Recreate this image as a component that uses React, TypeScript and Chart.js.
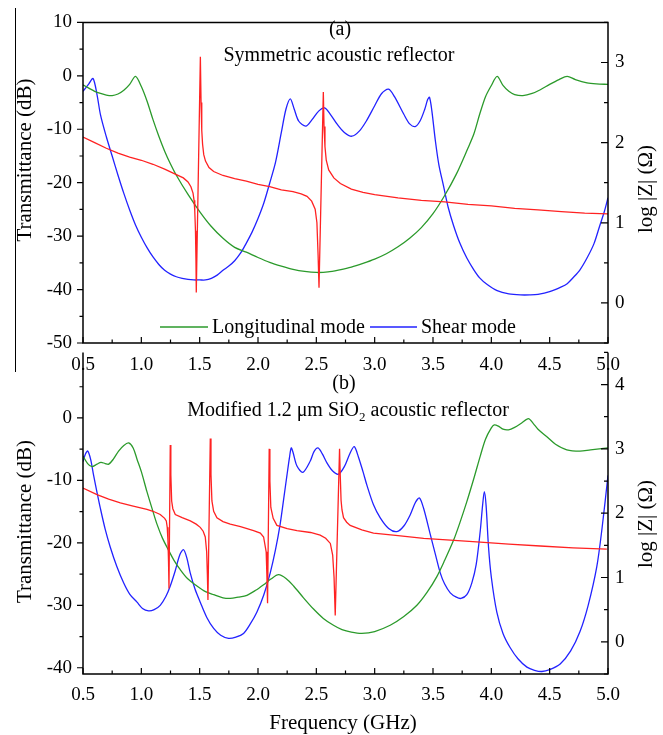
import React, { useEffect, useRef } from 'react';
import { Chart, registerables } from 'chart.js';
Chart.register(...registerables);

const FONT = '"Liberation Serif", "Times New Roman", Times, serif';
const GREEN = '#2b9a2b';
const BLUE = '#2222ff';
const RED = '#ff2222';

// ---------- axis ticks ----------
const xMajor = [0.5, 1.0, 1.5, 2.0, 2.5, 3.0, 3.5, 4.0, 4.5, 5.0];
const xMinor = [0.75, 1.25, 1.75, 2.25, 2.75, 3.25, 3.75, 4.25, 4.75];
const aLeftMajor = [-50, -40, -30, -20, -10, 0, 10];
const aLeftMinor = [-45, -35, -25, -15, -5, 5];
const aRightMajor = [0, 1, 2, 3];
const aRightMinor = [-0.5, 0.5, 1.5, 2.5, 3.5];
const bLeftMajor = [-40, -30, -20, -10, 0];
const bLeftMinor = [-35, -25, -15, -5, 5];
const bRightMajor = [0, 1, 2, 3, 4];
const bRightMinor = [-0.5, 0.5, 1.5, 2.5, 3.5, 4.5];

// ---------- panel (a) data : [GHz, dB] / [GHz, log|Z|] ----------
const aLongitudinal: [number, number][] = [
  [0.5, -1.7], [0.55, -2.3], [0.6, -2.9], [0.65, -3.3], [0.7, -3.6], [0.75, -3.7], [0.8, -3.4], [0.85, -2.7],
  [0.9, -1.6], [0.95, -0.1], [1.0, -2.0], [1.05, -4.8], [1.1, -8.2], [1.15, -11.3], [1.2, -14.1], [1.25, -16.5],
  [1.3, -18.6], [1.4, -22.2], [1.5, -25.4], [1.6, -28.2], [1.7, -30.4], [1.8, -32.1], [1.9, -33.0], [2.0, -34.0],
  [2.1, -34.9], [2.2, -35.6], [2.3, -36.2], [2.4, -36.6], [2.5, -36.8], [2.6, -36.7], [2.7, -36.3], [2.8, -35.8],
  [2.9, -35.1], [3.0, -34.3], [3.1, -33.3], [3.2, -32.0], [3.3, -30.4], [3.4, -28.4], [3.5, -25.8], [3.6, -22.4],
  [3.7, -18.4], [3.8, -13.5], [3.85, -10.9], [3.9, -7.2], [3.95, -3.9], [4.0, -1.8], [4.05, -0.1], [4.1, -1.8],
  [4.15, -2.9], [4.2, -3.5], [4.27, -3.7], [4.35, -3.3], [4.42, -2.6], [4.5, -1.6], [4.58, -0.7], [4.65, -0.1],
  [4.72, -0.7], [4.82, -1.3], [4.9, -1.5], [5.0, -1.6],
];
const aShear: [number, number][] = [
  [0.5, -2.9], [0.55, -1.5], [0.586, -0.5], [0.62, -3.5], [0.65, -7.3], [0.7, -11.4], [0.75, -15.0], [0.8, -18.6],
  [0.85, -22.0], [0.9, -25.1], [0.95, -27.9], [1.0, -30.2], [1.05, -32.2], [1.1, -33.9], [1.15, -35.3], [1.2, -36.4],
  [1.25, -37.1], [1.3, -37.6], [1.35, -37.9], [1.4, -38.1], [1.45, -38.2], [1.5, -38.2], [1.55, -38.2], [1.6, -37.9],
  [1.65, -37.3], [1.7, -36.4], [1.75, -35.6], [1.8, -34.6], [1.85, -33.2], [1.9, -31.3], [1.95, -29.2], [2.0, -26.7],
  [2.05, -23.8], [2.1, -20.1], [2.15, -16.2], [2.2, -10.6], [2.24, -6.2], [2.277, -4.3], [2.31, -6.2], [2.35, -8.5],
  [2.41, -9.4], [2.46, -8.3], [2.52, -6.6], [2.571, -6.0], [2.62, -7.2], [2.68, -9.1], [2.74, -10.6], [2.805, -11.3],
  [2.87, -10.3], [2.93, -8.4], [3.0, -5.6], [3.06, -3.3], [3.119, -2.5], [3.17, -3.9], [3.25, -7.2], [3.3, -9.0],
  [3.347, -9.5], [3.39, -8.4], [3.43, -6.2], [3.455, -4.4], [3.47, -4.0], [3.49, -6.5], [3.52, -12.1], [3.55, -16.6],
  [3.59, -20.6], [3.63, -24.6], [3.676, -28.0], [3.73, -31.3], [3.79, -34.1], [3.85, -36.3], [3.9, -37.8], [3.962, -39.0],
  [4.05, -40.2], [4.15, -40.8], [4.25, -41.0], [4.33, -41.0], [4.4, -40.9], [4.5, -40.4], [4.6, -39.5], [4.65, -38.9],
  [4.7, -37.8], [4.76, -36.3], [4.82, -34.1], [4.88, -31.4], [4.93, -28.0], [4.97, -25.3], [5.0, -22.8],
];
const aImpedance: [number, number][] = [
  [0.5, 2.07], [0.6, 2.0], [0.7, 1.93], [0.8, 1.87], [0.9, 1.82], [1.0, 1.78], [1.1, 1.73], [1.2, 1.67],
  [1.3, 1.6], [1.36, 1.56], [1.4, 1.51], [1.425, 1.45], [1.443, 1.37], [1.452, 1.28], [1.458, 1.15], [1.464, 0.9],
  [1.468, 0.55], [1.471, 0.13], [1.506, 3.07], [1.512, 2.5], [1.518, 2.15], [1.525, 1.98], [1.535, 1.85], [1.55, 1.77],
  [1.58, 1.69], [1.62, 1.64], [1.7, 1.59], [1.8, 1.55], [1.9, 1.52], [2.0, 1.48], [2.1, 1.45], [2.2, 1.41],
  [2.3, 1.39], [2.37, 1.36], [2.42, 1.33], [2.46, 1.27], [2.49, 1.17], [2.505, 1.0], [2.515, 0.6], [2.523, 0.19],
  [2.56, 2.63], [2.566, 2.2], [2.574, 1.95], [2.585, 1.78], [2.606, 1.66], [2.65, 1.56], [2.706, 1.49], [2.8, 1.42],
  [2.9, 1.38], [3.0, 1.35], [3.2, 1.31], [3.4, 1.28], [3.6, 1.26], [3.8, 1.23], [4.0, 1.21], [4.2, 1.18],
  [4.4, 1.16], [4.6, 1.14], [4.8, 1.12], [5.0, 1.11],
];

// ---------- panel (b) data ----------
const bLongitudinal: [number, number][] = [
  [0.5, -6.1], [0.54, -7.3], [0.577, -7.8], [0.62, -7.4], [0.654, -7.1], [0.69, -7.3], [0.72, -7.4], [0.76, -6.6],
  [0.805, -5.3], [0.85, -4.4], [0.891, -4.0], [0.93, -4.8], [0.963, -6.6], [1.0, -8.6], [1.048, -11.8], [1.1, -15.0],
  [1.134, -17.0], [1.18, -19.2], [1.234, -21.2], [1.28, -22.8], [1.334, -24.3], [1.4, -25.8], [1.477, -26.9], [1.55, -27.8],
  [1.62, -28.3], [1.7, -28.8], [1.762, -28.9], [1.83, -28.7], [1.905, -28.4], [1.98, -27.6], [2.048, -26.7], [2.11, -25.8],
  [2.176, -25.1], [2.24, -25.7], [2.305, -26.9], [2.39, -28.8], [2.476, -30.6], [2.56, -32.1], [2.647, -33.2], [2.72, -33.9],
  [2.8, -34.3], [2.89, -34.5], [3.0, -34.2], [3.133, -33.2], [3.25, -31.8], [3.362, -30.0], [3.45, -27.9], [3.533, -25.4],
  [3.6, -22.8], [3.676, -19.6], [3.73, -16.8], [3.79, -13.4], [3.85, -9.7], [3.905, -6.1], [3.95, -3.4], [4.0, -1.6],
  [4.025, -1.1], [4.06, -1.3], [4.1, -1.8], [4.147, -1.9], [4.2, -1.5], [4.26, -0.8], [4.318, -0.1], [4.36, -0.9],
  [4.4, -1.8], [4.476, -3.0], [4.55, -4.2], [4.647, -5.1], [4.76, -5.3], [4.85, -5.1], [5.0, -4.8],
];
const bShear: [number, number][] = [
  [0.5, -7.0], [0.52, -5.8], [0.54, -5.3], [0.565, -6.6], [0.591, -9.2], [0.62, -11.9], [0.648, -14.4], [0.69, -17.8],
  [0.734, -20.7], [0.79, -23.8], [0.848, -26.4], [0.9, -28.2], [0.963, -29.5], [1.01, -30.5], [1.062, -30.9], [1.11, -30.7],
  [1.162, -30.0], [1.21, -28.6], [1.248, -26.9], [1.29, -24.5], [1.33, -21.9], [1.362, -21.1], [1.39, -22.4], [1.419, -24.8],
  [1.46, -27.4], [1.505, -29.5], [1.56, -31.9], [1.62, -33.7], [1.68, -34.8], [1.748, -35.3], [1.81, -35.1], [1.876, -34.5],
  [1.93, -33.1], [1.99, -31.1], [2.05, -28.3], [2.105, -24.8], [2.15, -21.1], [2.19, -17.0], [2.22, -13.0], [2.248, -9.2],
  [2.27, -6.3], [2.285, -4.8], [2.3, -5.5], [2.334, -7.7], [2.385, -8.7], [2.448, -6.9], [2.48, -5.4], [2.514, -4.8],
  [2.55, -5.7], [2.591, -7.2], [2.64, -8.5], [2.69, -9.0], [2.74, -7.8], [2.79, -5.6], [2.825, -4.6], [2.86, -6.2],
  [2.9, -8.6], [2.934, -10.8], [2.99, -13.9], [3.048, -16.0], [3.12, -17.7], [3.19, -18.2], [3.25, -17.3], [3.305, -15.5],
  [3.35, -13.5], [3.384, -12.8], [3.42, -14.5], [3.476, -18.6], [3.52, -21.8], [3.562, -24.8], [3.6, -26.6], [3.648, -28.0],
  [3.7, -28.7], [3.74, -28.9], [3.79, -28.3], [3.833, -26.4], [3.87, -23.5], [3.905, -18.1], [3.925, -14.0], [3.94, -11.8],
  [3.955, -14.0], [3.976, -20.7], [4.0, -25.5], [4.047, -31.1], [4.1, -34.5], [4.162, -36.8], [4.23, -38.6], [4.305, -39.9],
  [4.37, -40.4], [4.433, -40.6], [4.5, -40.3], [4.59, -39.4], [4.68, -37.3], [4.76, -34.2], [4.83, -30.0], [4.904, -23.8],
  [4.95, -17.5], [5.0, -9.2],
];
const bImpedance: [number, number][] = [
  [0.5, 2.39], [0.62, 2.29], [0.72, 2.22], [0.82, 2.16], [0.93, 2.11], [1.048, 2.06], [1.1, 2.03], [1.162, 1.98],
  [1.2, 1.92], [1.214, 1.88], [1.222, 1.78], [1.228, 1.58], [1.233, 1.25], [1.237, 0.83], [1.248, 3.06], [1.253, 2.6],
  [1.26, 2.19], [1.27, 2.07], [1.291, 1.98], [1.35, 1.93], [1.42, 1.88], [1.47, 1.83], [1.505, 1.78], [1.53, 1.72],
  [1.548, 1.63], [1.56, 1.4], [1.566, 1.05], [1.571, 0.65], [1.591, 3.16], [1.597, 2.6], [1.605, 2.19], [1.62, 2.03],
  [1.648, 1.93], [1.7, 1.87], [1.762, 1.83], [1.85, 1.79], [1.962, 1.73], [2.02, 1.69], [2.048, 1.63], [2.07, 1.4],
  [2.076, 1.05], [2.082, 0.6], [2.096, 3.0], [2.102, 2.5], [2.11, 2.09], [2.13, 1.92], [2.162, 1.81], [2.25, 1.76],
  [2.334, 1.73], [2.45, 1.7], [2.533, 1.66], [2.58, 1.61], [2.62, 1.53], [2.64, 1.35], [2.652, 1.0], [2.662, 0.41],
  [2.699, 3.0], [2.705, 2.59], [2.712, 2.2], [2.72, 2.05], [2.733, 1.93], [2.76, 1.86], [2.79, 1.81], [2.89, 1.74],
  [2.99, 1.69], [3.2, 1.65], [3.42, 1.61], [3.65, 1.58], [3.905, 1.55], [4.15, 1.52], [4.42, 1.49], [4.7, 1.46],
  [4.99, 1.44],
];

type Part = { t: string; sub?: boolean };
type TextItem = { parts: Part[]; x: number; y: number; size: number; rot?: boolean };
type LegendItem = { ds: number; x0: number; x1: number; y: number; tx: number; ty: number };

type PanelSpec = {
  height: number;
  padTop: number;
  xHeight: number;
  xPad: number;
  yL: [number, number];
  yR: [number, number];
  yLMajor: number[];
  yLMinor: number[];
  yRMajor: number[];
  yRMinor: number[];
  topLine: boolean;
  longitudinal: [number, number][];
  shear: [number, number][];
  impedance: [number, number][];
  texts: TextItem[];
  legend: LegendItem[];
};

const panelA: PanelSpec = {
  height: 380, padTop: 16, xHeight: 37, xPad: 11,
  yL: [-50, 10], yR: [-0.5, 3.5],
  yLMajor: aLeftMajor, yLMinor: aLeftMinor, yRMajor: aRightMajor, yRMinor: aRightMinor,
  topLine: true,
  longitudinal: aLongitudinal, shear: aShear, impedance: aImpedance,
  texts: [
    { parts: [{ t: '(a)' }], x: 340, y: 35, size: 20 },
    { parts: [{ t: 'Symmetric acoustic reflector' }], x: 339, y: 60.5, size: 20 },
    { parts: [{ t: 'Transmittance (dB)' }], x: 31, y: 160, size: 21, rot: true },
    { parts: [{ t: 'log |Z| (Ω)' }], x: 652, y: 189, size: 21, rot: true },
  ],
  legend: [
    { ds: 1, x0: 160, x1: 208, y: 327, tx: 212, ty: 333 },
    { ds: 2, x0: 370, x1: 417, y: 327, tx: 421, ty: 333 },
  ],
};

const panelB: PanelSpec = {
  height: 405, padTop: 14, xHeight: 61, xPad: 10,
  yL: [-41, 10.5], yR: [-0.5, 4.5],
  yLMajor: bLeftMajor, yLMinor: bLeftMinor, yRMajor: bRightMajor, yRMinor: bRightMinor,
  topLine: false,
  longitudinal: bLongitudinal, shear: bShear, impedance: bImpedance,
  texts: [
    { parts: [{ t: '(b)' }], x: 344, y: 58.5, size: 20 },
    { parts: [{ t: 'Modified 1.2 μm SiO' }, { t: '2', sub: true }, { t: ' acoustic reflector' }], x: 348, y: 85.5, size: 20 },
    { parts: [{ t: 'Transmittance (dB)' }], x: 31, y: 191.5, size: 21, rot: true },
    { parts: [{ t: 'log |Z| (Ω)' }], x: 652, y: 194, size: 21, rot: true },
    { parts: [{ t: 'Frequency (GHz)' }], x: 343, y: 399, size: 21 },
  ],
  legend: [],
};

const toXY = (pairs: [number, number][]) => pairs.map(([x, y]) => ({ x, y }));

function makeDecor(p: PanelSpec) {
  return {
    id: 'decor',
    afterDraw(chart: any) {
      const { ctx, chartArea: a, scales } = chart;
      ctx.save();
      ctx.strokeStyle = '#000';
      ctx.lineWidth = 1.5;
      ctx.beginPath();
      ctx.moveTo(a.left, a.top);
      ctx.lineTo(a.left, a.bottom);
      ctx.lineTo(a.right, a.bottom);
      ctx.lineTo(a.right, a.top);
      if (p.topLine) ctx.lineTo(a.left, a.top);
      ctx.stroke();

      ctx.lineWidth = 1.2;
      ctx.beginPath();
      const seg = (x1: number, y1: number, x2: number, y2: number) => { ctx.moveTo(x1, y1); ctx.lineTo(x2, y2); };
      p.yLMajor.forEach((v) => { const y = scales.yL.getPixelForValue(v); seg(a.left - 6, y, a.left, y); });
      p.yLMinor.forEach((v) => { const y = scales.yL.getPixelForValue(v); seg(a.left - 3.5, y, a.left, y); });
      p.yRMajor.forEach((v) => { const y = scales.yR.getPixelForValue(v); seg(a.right - 7, y, a.right, y); });
      p.yRMinor.forEach((v) => { const y = scales.yR.getPixelForValue(v); seg(a.right - 4, y, a.right, y); });
      xMajor.forEach((v) => { const x = scales.x.getPixelForValue(v); seg(x, a.bottom, x, a.bottom - 6); });
      xMinor.forEach((v) => { const x = scales.x.getPixelForValue(v); seg(x, a.bottom, x, a.bottom - 3.5); });
      ctx.stroke();

      ctx.fillStyle = '#000';
      ctx.textBaseline = 'alphabetic';
      ctx.textAlign = 'left';
      p.texts.forEach((ti) => {
        const sizes = ti.parts.map((pt) => (pt.sub ? ti.size * 0.65 : ti.size));
        const widths = ti.parts.map((pt, i) => { ctx.font = `${sizes[i]}px ${FONT}`; return ctx.measureText(pt.t).width; });
        const total = widths.reduce((s, w) => s + w, 0);
        ctx.save();
        ctx.translate(ti.x, ti.y);
        if (ti.rot) ctx.rotate(-Math.PI / 2);
        let cx = -total / 2;
        ti.parts.forEach((pt, i) => {
          ctx.font = `${sizes[i]}px ${FONT}`;
          ctx.fillText(pt.t, cx, pt.sub ? ti.size * 0.25 : 0);
          cx += widths[i];
        });
        ctx.restore();
      });

      p.legend.forEach((li) => {
        const ds = chart.data.datasets[li.ds];
        ctx.strokeStyle = ds.borderColor;
        ctx.lineWidth = ds.borderWidth;
        ctx.beginPath();
        ctx.moveTo(li.x0, li.y);
        ctx.lineTo(li.x1, li.y);
        ctx.stroke();
        ctx.fillStyle = '#000';
        ctx.font = `20px ${FONT}`;
        ctx.fillText(ds.label, li.tx, li.ty);
      });
      ctx.restore();
    },
  };
}

function buildConfig(p: PanelSpec): any {
  const font = { family: FONT, size: 19 };
  const fixTicks = (vals: number[]) => (s: any) => { s.ticks = vals.map((v) => ({ value: v })); };
  return {
    type: 'line',
    data: {
      datasets: [
        { label: 'log |Z|', data: toXY(p.impedance), yAxisID: 'yR', borderColor: RED, borderWidth: 1.3, pointRadius: 0, tension: 0, fill: false },
        { label: 'Longitudinal mode', data: toXY(p.longitudinal), yAxisID: 'yL', borderColor: GREEN, borderWidth: 1.3, pointRadius: 0, tension: 0.3, fill: false },
        { label: 'Shear mode', data: toXY(p.shear), yAxisID: 'yL', borderColor: BLUE, borderWidth: 1.3, pointRadius: 0, tension: 0.3, fill: false },
      ],
    },
    options: {
      animation: false,
      responsive: false,
      events: [],
      layout: { padding: { top: p.padTop, left: 0, right: 0, bottom: 0 } },
      plugins: { legend: { display: false }, tooltip: { enabled: false }, title: { display: false } },
      scales: {
        x: {
          type: 'linear', position: 'bottom', min: 0.5, max: 5.0,
          afterBuildTicks: fixTicks(xMajor),
          afterFit: (s: any) => { s.height = p.xHeight; },
          ticks: { callback: (v: any) => Number(v).toFixed(1), font, color: '#000', padding: p.xPad, maxRotation: 0, minRotation: 0, autoSkip: false },
          grid: { display: false, drawTicks: false },
          border: { display: false },
        },
        yL: {
          type: 'linear', position: 'left', min: p.yL[0], max: p.yL[1],
          afterBuildTicks: fixTicks(p.yLMajor),
          afterFit: (s: any) => { s.width = 83; },
          ticks: { callback: (v: any) => String(v), font, color: '#000', padding: 11, autoSkip: false },
          grid: { display: false, drawTicks: false },
          border: { display: false },
        },
        yR: {
          type: 'linear', position: 'right', min: p.yR[0], max: p.yR[1],
          afterBuildTicks: fixTicks(p.yRMajor),
          afterFit: (s: any) => { s.width = 55; },
          ticks: { callback: (v: any) => String(v), font, color: '#000', padding: 7, autoSkip: false },
          grid: { display: false, drawTicks: false },
          border: { display: false },
        },
      },
    },
    plugins: [makeDecor(p)],
  };
}

function Panel({ spec, top }: { spec: PanelSpec; top: number }) {
  const ref = useRef<HTMLCanvasElement>(null);
  useEffect(() => {
    const chart = new Chart(ref.current as HTMLCanvasElement, buildConfig(spec));
    return () => chart.destroy();
  }, [spec]);
  return (
    <canvas
      ref={ref}
      width={663}
      height={spec.height}
      style={{ position: 'absolute', left: 0, top, width: 663, height: spec.height }}
    />
  );
}

export default function App() {
  return (
    <div style={{ position: 'absolute', left: 0, top: 0, width: 663, height: 735, background: '#fff', overflow: 'hidden' }}>
      <div style={{ position: 'absolute', left: 15, top: 8, width: 1, height: 364, background: '#000' }} />
      <Panel spec={panelA} top={0} />
      <Panel spec={panelB} top={330} />
    </div>
  );
}
